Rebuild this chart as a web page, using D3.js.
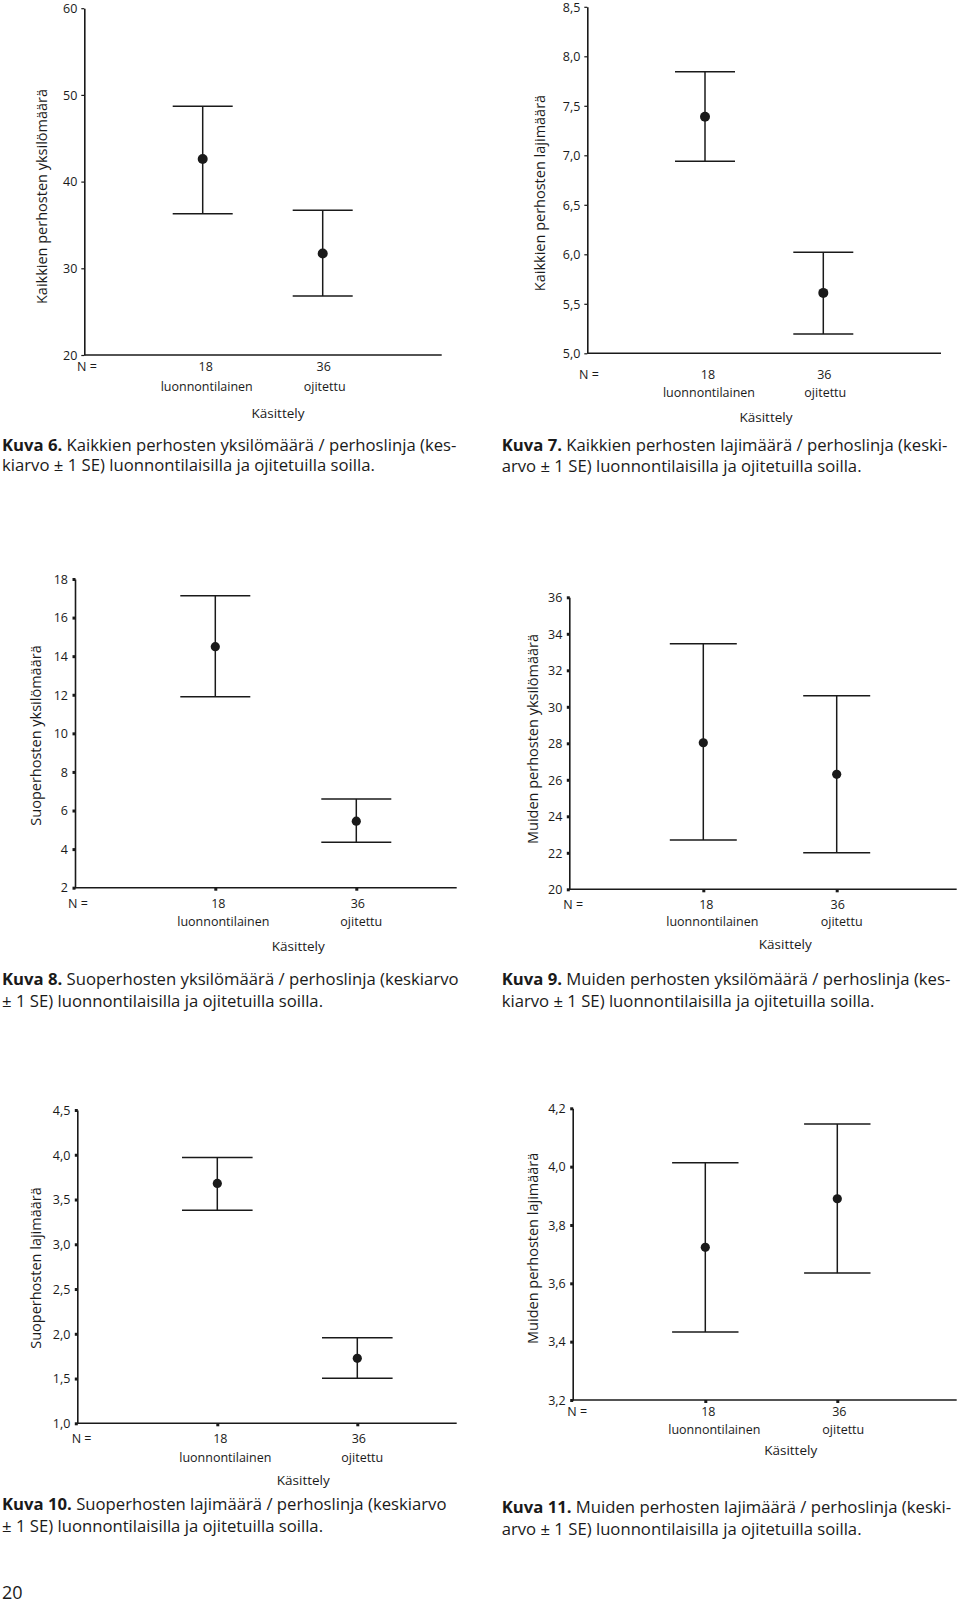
<!DOCTYPE html>
<html>
<head>
<meta charset="utf-8">
<script src="https://cdn.jsdelivr.net/npm/d3@7"></script>
<style>
  html, body { margin: 0; padding: 0; background: #fff; }
  svg { display: block; }
  text { font-family: "Open Sans", "Noto Sans", sans-serif; fill: #1a1a1a; }
</style>
</head>
<body>
<svg id="page" width="960" height="1603"></svg>
<script>
// ---------- DATA ----------
const groups = ["luonnontilainen", "ojitettu"];
const groupN = ["18", "36"];
const xTitle = "Käsittely";

// Kuva 6
const k6Mean = [42.6, 31.7];
const k6Low = [36.3, 26.8];
const k6High = [48.7, 36.7];
const k6Ticks = [20, 30, 40, 50, 60];
const k6TickLabels = ["20", "30", "40", "50", "60"];
const k6YTitle = "Kaikkien perhosten yksilömäärä";
const k6Caption = ["Kuva 6.", " Kaikkien perhosten yksilömäärä / perhoslinja (kes-", "kiarvo ± 1 SE) luonnontilaisilla ja ojitetuilla soilla."];

// Kuva 7
const k7Mean = [7.39, 5.61];
const k7Low = [6.94, 5.195];
const k7High = [7.845, 6.02];
const k7Ticks = [5.0, 5.5, 6.0, 6.5, 7.0, 7.5, 8.0, 8.5];
const k7TickLabels = ["5,0", "5,5", "6,0", "6,5", "7,0", "7,5", "8,0", "8,5"];
const k7YTitle = "Kaikkien perhosten lajimäärä";
const k7Caption = ["Kuva 7.", " Kaikkien perhosten lajimäärä / perhoslinja (keski-", "arvo ± 1 SE) luonnontilaisilla ja ojitetuilla soilla."];

// Kuva 8
const k8Mean = [14.49, 5.45];
const k8Low = [11.9, 4.35];
const k8High = [17.13, 6.6];
const k8Ticks = [2, 4, 6, 8, 10, 12, 14, 16, 18];
const k8TickLabels = ["2", "4", "6", "8", "10", "12", "14", "16", "18"];
const k8YTitle = "Suoperhosten yksilömäärä";
const k8Caption = ["Kuva 8.", " Suoperhosten yksilömäärä / perhoslinja (keskiarvo", "± 1 SE) luonnontilaisilla ja ojitetuilla soilla."];

// Kuva 9
const k9Mean = [28.03, 26.3];
const k9Low = [22.7, 22.0];
const k9High = [33.46, 30.6];
const k9Ticks = [20, 22, 24, 26, 28, 30, 32, 34, 36];
const k9TickLabels = ["20", "22", "24", "26", "28", "30", "32", "34", "36"];
const k9YTitle = "Muiden perhosten yksilömäärä";
const k9Caption = ["Kuva 9.", " Muiden perhosten yksilömäärä / perhoslinja (kes-", "kiarvo ± 1 SE) luonnontilaisilla ja ojitetuilla soilla."];

// Kuva 10
const k10Mean = [3.68, 1.726];
const k10Low = [3.38, 1.503];
const k10High = [3.97, 1.956];
const k10Ticks = [1.0, 1.5, 2.0, 2.5, 3.0, 3.5, 4.0, 4.5];
const k10TickLabels = ["1,0", "1,5", "2,0", "2,5", "3,0", "3,5", "4,0", "4,5"];
const k10YTitle = "Suoperhosten lajimäärä";
const k10Caption = ["Kuva 10.", " Suoperhosten lajimäärä / perhoslinja (keskiarvo", "± 1 SE) luonnontilaisilla ja ojitetuilla soilla."];

// Kuva 11
const k11Mean = [3.7235, 3.89];
const k11Low = [3.433, 3.635];
const k11High = [4.0135, 4.146];
const k11Ticks = [3.2, 3.4, 3.6, 3.8, 4.0, 4.2];
const k11TickLabels = ["3,2", "3,4", "3,6", "3,8", "4,0", "4,2"];
const k11YTitle = "Muiden perhosten lajimäärä";
const k11Caption = ["Kuva 11.", " Muiden perhosten lajimäärä / perhoslinja (keski-", "arvo ± 1 SE) luonnontilaisilla ja ojitetuilla soilla."];

const pageNumber = "20";

// ---------- LAYOUT ----------
const charts = [
  { mean: k6Mean, low: k6Low, high: k6High, ticks: k6Ticks, labels: k6TickLabels, ytitle: k6YTitle, caption: k6Caption,
    ax: 84.3, yTop: 8.2, yBot: 355, xRight: 441.7, g: [202.7, 322.7], cap: 30, tick: "line", r: 5,
    nX: 77, nY: 366.7, numDx: [3, 1], catDx: [4, 2], catY: 387, xtX: 278, xtY: 413, ytX: 41.7, ytY: 196.5,
    capX: 2, capY: [445, 465.5] },
  { mean: k7Mean, low: k7Low, high: k7High, ticks: k7Ticks, labels: k7TickLabels, ytitle: k7YTitle, caption: k7Caption,
    ax: 587.3, yTop: 6.8, yBot: 353.3, xRight: 941, g: [705, 823.3], cap: 30, tick: "line", r: 5,
    nX: 579, nY: 375, numDx: [3, 1], catDx: [4, 2], catY: 393, xtX: 766, xtY: 417.7, ytX: 540, ytY: 193,
    capX: 501.7, capY: [445, 466] },
  { mean: k8Mean, low: k8Low, high: k8High, ticks: k8Ticks, labels: k8TickLabels, ytitle: k8YTitle, caption: k8Caption,
    ax: 75, yTop: 579, yBot: 887.7, xRight: 456.7, g: [215.3, 356.3], cap: 35, tick: "square", r: 4.6,
    nX: 68, nY: 903.3, numDx: [3, 1.5], catDx: [8, 5], catY: 921.7, xtX: 298.3, xtY: 946.7, ytX: 36, ytY: 735.5,
    capX: 2, capY: [979.3, 1001] },
  { mean: k9Mean, low: k9Low, high: k9High, ticks: k9Ticks, labels: k9TickLabels, ytitle: k9YTitle, caption: k9Caption,
    ax: 569.3, yTop: 597.3, yBot: 889.3, xRight: 956.7, g: [703.3, 836.7], cap: 33.5, tick: "square", r: 4.6,
    nX: 563.3, nY: 905, numDx: [3, 1], catDx: [9, 5], catY: 921.7, xtX: 785.3, xtY: 944, ytX: 533.3, ytY: 739,
    capX: 501.7, capY: [979.3, 1001] },
  { mean: k10Mean, low: k10Low, high: k10High, ticks: k10Ticks, labels: k10TickLabels, ytitle: k10YTitle, caption: k10Caption,
    ax: 77.3, yTop: 1110, yBot: 1423.3, xRight: 456.7, g: [217.3, 357.3], cap: 35.3, tick: "square", r: 4.6,
    nX: 71.7, nY: 1438.3, numDx: [3, 1.5], catDx: [8, 5], catY: 1457.3, xtX: 303.3, xtY: 1480, ytX: 36, ytY: 1268,
    capX: 2, capY: [1504, 1525.7] },
  { mean: k11Mean, low: k11Low, high: k11High, ticks: k11Ticks, labels: k11TickLabels, ytitle: k11YTitle, caption: k11Caption,
    ax: 572.7, yTop: 1108.3, yBot: 1400, xRight: 956.7, g: [705.3, 837.3], cap: 33.2, tick: "square", r: 4.6,
    nX: 567.3, nY: 1411.7, numDx: [3, 2], catDx: [9, 6], catY: 1429.3, xtX: 790.7, xtY: 1450, ytX: 533.3, ytY: 1248.3,
    capX: 501.7, capY: [1507.3, 1529.3] }
];

const svg = d3.select("#page");
const ink = "#1a1a1a";

charts.forEach(c => {
  const gRoot = svg.append("g");
  const y = d3.scaleLinear()
    .domain([c.ticks[0], c.ticks[c.ticks.length - 1]])
    .range([c.yBot, c.yTop]);
  const x = d3.scalePoint().domain(groups).range(c.g);

  // Y axis
  const yAxis = d3.axisLeft(y)
    .tickValues(c.ticks)
    .tickFormat((d, i) => c.labels[i])
    .tickSize(c.tick === "line" ? 3 : 0)
    .tickSizeOuter(0)
    .tickPadding(c.tick === "line" ? 4 : 7);
  const yg = gRoot.append("g").attr("transform", `translate(${c.ax},0)`).call(yAxis);
  yg.select(".domain").attr("stroke", ink).attr("stroke-width", 1.6);
  yg.selectAll(".tick line").attr("stroke", ink).attr("stroke-width", 1.2);
  yg.selectAll(".tick text").attr("font-size", 12.5).attr("fill", ink)
    .attr("dy", "0.34em")
    .style("font-family", '"Open Sans", sans-serif');
  if (c.tick === "square") {
    yg.selectAll(".tick").append("rect")
      .attr("x", -2.5).attr("y", -1.5).attr("width", 3).attr("height", 3).attr("fill", ink);
  }

  // X axis line
  const xAxis = d3.axisBottom(x).tickSize(0).tickFormat("");
  const xg = gRoot.append("g").attr("transform", `translate(0,${c.yBot})`).call(xAxis);
  xg.select(".domain").remove();
  xg.append("line").attr("x1", c.ax).attr("x2", c.xRight).attr("y1", 0).attr("y2", 0)
    .attr("stroke", ink).attr("stroke-width", 1.6);
  if (c.tick === "square") {
    xg.selectAll(".tick").append("rect")
      .attr("x", -1.5).attr("y", 0).attr("width", 3).attr("height", 3).attr("fill", ink);
  }

  // N labels
  gRoot.append("text").attr("x", c.nX).attr("y", c.nY).attr("dy", "0.35em")
    .attr("font-size", 12.5).text("N =");
  groups.forEach((grp, i) => {
    gRoot.append("text").attr("x", x(grp) + c.numDx[i]).attr("y", c.nY).attr("dy", "0.35em")
      .attr("text-anchor", "middle").attr("font-size", 12.5).text(groupN[i]);
    gRoot.append("text").attr("x", x(grp) + c.catDx[i]).attr("y", c.catY).attr("dy", "0.35em")
      .attr("text-anchor", "middle").attr("font-size", 12.5).text(grp);
  });
  gRoot.append("text").attr("x", c.xtX).attr("y", c.xtY).attr("dy", "0.35em")
    .attr("text-anchor", "middle").attr("font-size", 13.5).text(xTitle);

  // Y title
  gRoot.append("text")
    .attr("transform", `translate(${c.ytX},${c.ytY}) rotate(-90)`)
    .attr("dy", "0.35em").attr("text-anchor", "middle").attr("font-size", 14.5)
    .text(c.ytitle);

  // Error bars
  const bars = gRoot.append("g").selectAll("g").data(groups).join("g");
  bars.append("line")
    .attr("x1", d => x(d)).attr("x2", d => x(d))
    .attr("y1", (d, i) => y(c.high[i])).attr("y2", (d, i) => y(c.low[i]))
    .attr("stroke", ink).attr("stroke-width", 1.5);
  bars.append("line")
    .attr("x1", d => x(d) - c.cap).attr("x2", d => x(d) + c.cap)
    .attr("y1", (d, i) => y(c.high[i])).attr("y2", (d, i) => y(c.high[i]))
    .attr("stroke", ink).attr("stroke-width", 1.5);
  bars.append("line")
    .attr("x1", d => x(d) - c.cap).attr("x2", d => x(d) + c.cap)
    .attr("y1", (d, i) => y(c.low[i])).attr("y2", (d, i) => y(c.low[i]))
    .attr("stroke", ink).attr("stroke-width", 1.5);
  bars.append("circle")
    .attr("cx", d => x(d)).attr("cy", (d, i) => y(c.mean[i]))
    .attr("r", c.r).attr("fill", ink);

  // Caption
  const t1 = gRoot.append("text").attr("x", c.capX).attr("y", c.capY[0]).attr("dy", "0.35em")
    .attr("font-size", 16.7);
  t1.append("tspan").attr("font-weight", "bold").text(c.caption[0]);
  t1.append("tspan").text(c.caption[1]);
  gRoot.append("text").attr("x", c.capX).attr("y", c.capY[1]).attr("dy", "0.35em")
    .attr("font-size", 16.7).text(c.caption[2]);
});

svg.append("text").attr("x", 2).attr("y", 1593).attr("dy", "0.35em")
  .attr("font-size", 18).text(pageNumber);
</script>
</body>
</html>
